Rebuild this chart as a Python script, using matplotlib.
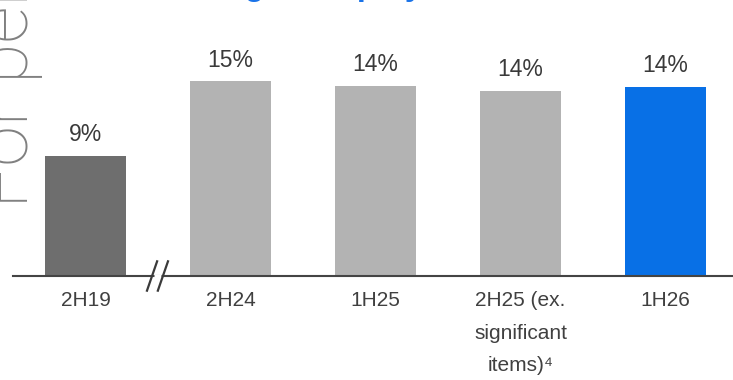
import matplotlib
matplotlib.use("Agg")
import matplotlib.pyplot as plt
from matplotlib.lines import Line2D

categories = ["2H19", "2H24", "1H25", "2H25 (ex.\nsignificant\nitems)\u2074", "1H26"]
values = [9.0, 14.6, 14.25, 13.9, 14.2]
value_labels = ["9%", "15%", "14%", "14%", "14%"]
bar_colors = ["#6e6e6e", "#b3b3b3", "#b3b3b3", "#b3b3b3", "#0870e6"]
title_text = "Return on tangible equity"
watermark_text = "For personal use only"

W, H = 733, 380
fig = plt.figure(figsize=(W / 100, H / 100), dpi=100)
fig.patch.set_facecolor("white")

FONT = ["Liberation Sans", "DejaVu Sans"]

ax_left, ax_right = 13, 733
ax_bottom = H - 276
ax = fig.add_axes([ax_left / W, ax_bottom / H, (ax_right - ax_left) / W, 276 / H])
x = list(range(len(categories)))
ax.bar(x, values, width=0.56, color=bar_colors, zorder=2)
ax.set_xlim(-0.5, 4.466)
ax.set_ylim(0, 20.7)
for s in ["top", "right", "left"]:
    ax.spines[s].set_visible(False)
ax.spines["bottom"].set_color("#444444")
ax.spines["bottom"].set_linewidth(1.5)
ax.spines["bottom"].set_zorder(3)
ax.set_yticks([])
ax.set_xticks(x)
ax.set_xticklabels(categories, fontsize=15, color="#404040", family=FONT, linespacing=1.9, va="top")
ax.tick_params(axis="x", length=0, pad=11)

for xi, v, lab in zip(x, values, value_labels):
    ax.annotate(lab, (xi, v), xytext=(0, 7), textcoords="offset points",
                ha="center", va="bottom", fontsize=16.5, color="#3a3a3a", family=FONT)

# axis break marks
ax.plot([0.47, 0.52], [0.0, 0.0], color="white", lw=2.5, solid_capstyle="butt", zorder=4, clip_on=False)
for cx in (0.459, 0.534):
    ax.add_line(Line2D([cx - 0.035, cx + 0.035], [-1.1, 1.1], color="#3a3a3a", lw=1.6,
                       zorder=5, clip_on=False))

# watermark
fig.text(27.5 / W, (H - 208) / H, watermark_text, rotation=90, rotation_mode="anchor",
         ha="left", va="baseline", fontsize=53, color="#808080",
         family=["Roboto", "DejaVu Sans"], fontweight="light")

# title (mostly outside the canvas)
fig.text(230 / W, 1 + 5 / H, title_text, ha="center", va="baseline", fontsize=23,
         color="#1a73e8", fontweight="bold", family=FONT)

fig.savefig("out.png", dpi=100, facecolor="white")
